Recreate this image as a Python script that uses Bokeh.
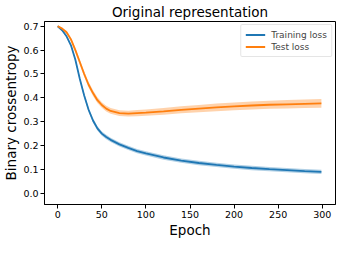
from bokeh.plotting import figure
from bokeh.models import FixedTicker, Range1d, PrintfTickFormatter
from bokeh.embed import file_html
from bokeh.resources import INLINE

epochs = [0, 5, 10, 15, 20, 25, 30, 35, 40, 45, 50, 55, 60, 70, 80, 90, 100,
          120, 140, 160, 180, 200, 220, 240, 260, 280, 299]
train_loss = [0.700, 0.683, 0.658, 0.620, 0.560, 0.480, 0.410, 0.350, 0.305,
              0.272, 0.250, 0.236, 0.224, 0.205, 0.190, 0.177, 0.167,
              0.150, 0.137, 0.127, 0.119, 0.112, 0.106, 0.101, 0.097, 0.093, 0.090]
train_std = [0.003, 0.004, 0.005, 0.006, 0.007, 0.008, 0.009, 0.009, 0.009,
             0.009, 0.009, 0.009, 0.009, 0.009, 0.009, 0.009, 0.009,
             0.009, 0.009, 0.009, 0.009, 0.009, 0.009, 0.009, 0.009, 0.009, 0.009]
test_loss = [0.700, 0.690, 0.675, 0.645, 0.600, 0.550, 0.500, 0.455, 0.420,
             0.390, 0.370, 0.355, 0.345, 0.336, 0.334, 0.336, 0.338,
             0.343, 0.350, 0.355, 0.360, 0.364, 0.368, 0.371, 0.373, 0.375, 0.377]
test_std = [0.004, 0.005, 0.006, 0.008, 0.010, 0.011, 0.012, 0.012, 0.012,
            0.012, 0.012, 0.012, 0.012, 0.012, 0.012, 0.013, 0.013,
            0.014, 0.015, 0.015, 0.016, 0.016, 0.017, 0.017, 0.018, 0.018, 0.018]
x_ticks = [0, 50, 100, 150, 200, 250, 300]
y_ticks = [0.0, 0.1, 0.2, 0.3, 0.4, 0.5, 0.6, 0.7]

BLUE = "#1f77b4"
ORANGE = "#ff7f0e"
FONT = "DejaVu Sans"

p = figure(width=339, height=240, output_backend="svg", toolbar_location=None,
           title="Original representation",
           x_range=Range1d(-15, 315), y_range=Range1d(-0.047, 0.72),
           min_border_left=0, min_border_right=4, min_border_top=0, min_border_bottom=0)

p.title.text_font = FONT
p.title.text_font_size = "13.5px"
p.title.text_font_style = "normal"
p.title.align = "center"
p.title.text_color = "black"
p.title.standoff = 3

p.varea(x=epochs, y1=[a - b for a, b in zip(train_loss, train_std)],
        y2=[a + b for a, b in zip(train_loss, train_std)], fill_color=BLUE, fill_alpha=0.35)
p.varea(x=epochs, y1=[a - b for a, b in zip(test_loss, test_std)],
        y2=[a + b for a, b in zip(test_loss, test_std)], fill_color=ORANGE, fill_alpha=0.35)
p.line(epochs, train_loss, line_color=BLUE, line_width=1.8, legend_label="Training loss")
p.line(epochs, test_loss, line_color=ORANGE, line_width=1.8, legend_label="Test loss")

p.xgrid.visible = False
p.ygrid.visible = False
p.outline_line_color = "black"
p.outline_line_width = 1
p.background_fill_color = "white"
p.border_fill_color = "white"

for ax in (p.xaxis[0], p.yaxis[0]):
    ax.axis_line_color = "black"
    ax.major_tick_line_color = "black"
    ax.minor_tick_line_color = None
    ax.major_tick_out = 4
    ax.major_tick_in = 0
    ax.major_label_text_font = FONT
    ax.major_label_text_font_size = "9.5px"
    ax.major_label_text_color = "black"
    ax.axis_label_text_font = FONT
    ax.axis_label_text_font_size = "13.5px"
    ax.axis_label_text_font_style = "normal"
    ax.axis_label_text_color = "black"
    ax.major_label_standoff = 2
    ax.axis_label_standoff = 1

p.xaxis.ticker = FixedTicker(ticks=x_ticks)
p.yaxis.ticker = FixedTicker(ticks=y_ticks)
p.yaxis.formatter = PrintfTickFormatter(format="%.1f")
p.xaxis.axis_label = "Epoch"
p.yaxis.axis_label = "Binary crossentropy"

p.legend.location = "top_right"
p.legend.label_text_font = FONT
p.legend.label_text_font_size = "9px"
p.legend.label_height = 11
p.legend.glyph_height = 11
p.legend.glyph_width = 20
p.legend.label_standoff = 6
p.legend.spacing = 1
p.legend.padding = 4
p.legend.margin = 3
p.legend.border_line_color = "#cccccc"
p.legend.border_radius = 2
p.legend.background_fill_alpha = 0.8

open("out.html", "w").write(file_html(p, INLINE))
